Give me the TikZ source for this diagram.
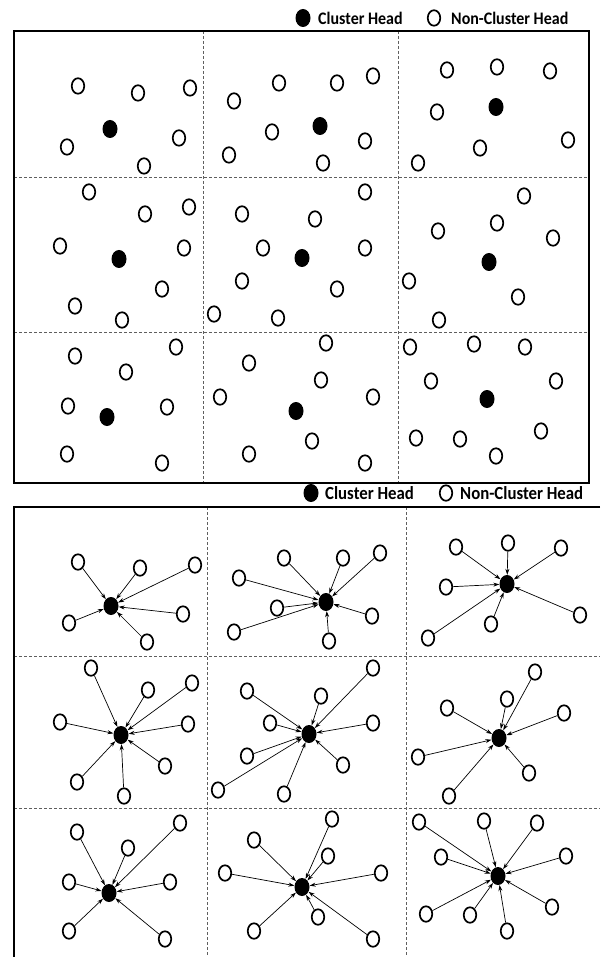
\documentclass[tikz,border=0pt]{standalone}
\usepackage{fontspec}
\setmainfont{Carlito}
\usetikzlibrary{shapes.geometric, arrows.meta}
\definecolor{gridgray}{RGB}{95,95,95}

\begin{document}
\begin{tikzpicture}[
    x=1pt, y=-1pt,
    head/.style={ellipse, fill=black, inner sep=0pt, minimum width=15pt, minimum height=18pt},
    member/.style={ellipse, draw=black, line width=1.7pt, fill=white, inner sep=0pt, minimum width=12.5pt, minimum height=15.5pt},
    panel/.style={draw=black, line width=2pt},
    cellline/.style={draw=gridgray, line width=1pt, dash pattern=on 3pt off 2pt},
    link/.style={-{Stealth[length=6pt, width=4pt]}, line width=0.7pt},
    keytext/.style={font=\bfseries\fontsize{16}{19}\selectfont, anchor=west, inner sep=0pt}
]
\useasboundingbox (0,0) rectangle (600,957);

% ---------- upper panel: scattered nodes ----------
\node[head] (kh1) at (303,18) {};
\node[keytext] (kt1) at (318,18) {\scalebox{1}[1.1]{Cluster Head}};
\node[member] (km1) at (434,18) {};
\node[keytext] (kn1) at (451,18) {\scalebox{1}[1.1]{Non-Cluster Head}};

\draw[cellline] (14,178) -- (589,178);
\draw[cellline] (14,332) -- (589,332);
\draw[cellline] (203,31) -- (203,483);
\draw[cellline] (398,31) -- (398,483);
\draw[panel] (14,31) rectangle (589,483);

% row 1
\node[head] (t11) at (110,129) {};
\foreach \x/\y [count=\i] in {78/86, 138/93, 190/88, 67/147, 179/138, 144/166}
    \node[member] (t11-\i) at (\x,\y) {};
\node[head] (t12) at (320,126) {};
\foreach \x/\y [count=\i] in {279/83, 337/83, 373/76, 234/101, 272/132, 365/141, 229/155, 323/163}
    \node[member] (t12-\i) at (\x,\y) {};
\node[head] (t13) at (496,107) {};
\foreach \x/\y [count=\i] in {447/70, 497/67, 550/71, 437/112, 568/140, 480/148, 418/163}
    \node[member] (t13-\i) at (\x,\y) {};

% row 2
\node[head] (t21) at (119,259) {};
\foreach \x/\y [count=\i] in {89/192, 145/214, 189/207, 60/246, 184/248, 162/289, 75/306, 122/320}
    \node[member] (t21-\i) at (\x,\y) {};
\node[head] (t22) at (302,258) {};
\foreach \x/\y [count=\i] in {365/192, 242/214, 315/219, 263/248, 365/248, 242/281, 337/289, 214/314, 278/318}
    \node[member] (t22-\i) at (\x,\y) {};
\node[head] (t23) at (489,262) {};
\foreach \x/\y [count=\i] in {524/196, 497/223, 438/231, 553/238, 409/281, 518/297, 439/320}
    \node[member] (t23-\i) at (\x,\y) {};

% row 3
\node[head] (t31) at (107,417) {};
\foreach \x/\y [count=\i] in {75/356, 176/347, 126/372, 68/406, 167/407, 67/454, 162/463}
    \node[member] (t31-\i) at (\x,\y) {};
\node[head] (t32) at (296,411) {};
\foreach \x/\y [count=\i] in {326/343, 249/363, 321/380, 220/397, 373/397, 312/441, 249/454, 365/463}
    \node[member] (t32-\i) at (\x,\y) {};
\node[head] (t33) at (487,399) {};
\foreach \x/\y [count=\i] in {410/347, 474/344, 525/347, 431/381, 556/381, 416/438, 460/439, 541/431, 496/456}
    \node[member] (t33-\i) at (\x,\y) {};

% ---------- lower panel: members linked to their head ----------
\node[head] (kh2) at (311,493) {};
\node[keytext, font=\bfseries\fontsize{16.8}{19}\selectfont] (kt2) at (325,493) {\scalebox{1}[1.1]{Cluster Head}};
\node[member] (km2) at (446,493) {};
\node[keytext, font=\bfseries\fontsize{16.8}{19}\selectfont] (kn2) at (460,493) {\scalebox{1}[1.1]{Non-Cluster Head}};

\draw[cellline] (14,656) -- (600,656);
\draw[cellline] (14,808) -- (600,808);
\draw[cellline] (207,507) -- (207,957);
\draw[cellline] (406,507) -- (406,957);
\draw[panel] (600,507) -- (14,507) -- (14,957);

% row 1
\node[head] (b11) at (111,606) {};
\foreach \x/\y [count=\i] in {78/562, 140/568, 195/565, 69/623, 183/614, 147/642}
    \node[member] (b11-\i) at (\x,\y) {};
\foreach \i in {1,...,6} \draw[link] (b11-\i) -- (b11);
\node[head] (b12) at (326,602) {};
\foreach \x/\y [count=\i] in {284/558, 343/558, 380/553, 239/578, 277/608, 372/616, 234/632, 329/641}
    \node[member] (b12-\i) at (\x,\y) {};
\foreach \i in {1,...,8} \draw[link] (b12-\i) -- (b12);
\node[head] (b13) at (507,584) {};
\foreach \x/\y [count=\i] in {456/547, 508/543, 561/548, 446/587, 580/615, 491/624, 428/638}
    \node[member] (b13-\i) at (\x,\y) {};
\foreach \i in {1,...,7} \draw[link] (b13-\i) -- (b13);

% row 2
\node[head] (b21) at (121,735) {};
\foreach \x/\y [count=\i] in {91/668, 148/690, 192/683, 60/722, 188/724, 165/766, 77/782, 124/796}
    \node[member] (b21-\i) at (\x,\y) {};
\foreach \i in {1,...,8} \draw[link] (b21-\i) -- (b21);
\node[head] (b22) at (309,734) {};
\foreach \x/\y [count=\i] in {373/668, 247/691, 321/696, 270/723, 373/723, 247/756, 343/765, 218/790, 284/794}
    \node[member] (b22-\i) at (\x,\y) {};
\foreach \i in {1,...,9} \draw[link] (b22-\i) -- (b22);
\node[head] (b23) at (499,738) {};
\foreach \x/\y [count=\i] in {535/672, 507/699, 447/708, 564/713, 418/757, 529/773, 449/796}
    \node[member] (b23-\i) at (\x,\y) {};
\foreach \i in {1,...,7} \draw[link] (b23-\i) -- (b23);

% row 3
\node[head] (b31) at (109,893) {};
\foreach \x/\y [count=\i] in {77/832, 180/823, 128/848, 69/882, 170/882, 69/931, 165/939}
    \node[member] (b31-\i) at (\x,\y) {};
\foreach \i in {1,...,7} \draw[link] (b31-\i) -- (b31);
\node[head] (b32) at (302,887) {};
\foreach \x/\y [count=\i] in {332/819, 254/840, 328/856, 225/873, 381/873, 318/917, 254/931, 373/939}
    \node[member] (b32-\i) at (\x,\y) {};
\foreach \i in {1,...,8} \draw[link] (b32-\i) -- (b32);
\node[head] (b33) at (498,876) {};
\foreach \x/\y [count=\i] in {419/822, 484/821, 537/823, 441/857, 566/856, 426/914, 470/915, 552/907, 507/931}
    \node[member] (b33-\i) at (\x,\y) {};
\foreach \i in {1,...,9} \draw[link] (b33-\i) -- (b33);
\end{tikzpicture}
\end{document}
